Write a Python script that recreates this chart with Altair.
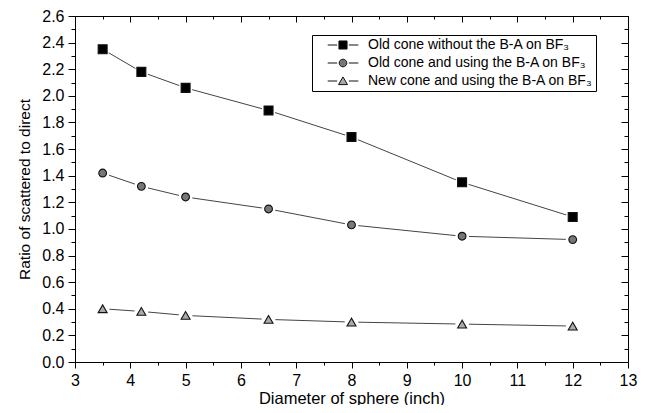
import altair as alt
import pandas as pd

# ---- data ----
diameters = [3.5, 4.2, 5, 6.5, 8, 10, 12]
old_without = [2.35, 2.18, 2.06, 1.89, 1.69, 1.35, 1.09]
old_with = [1.42, 1.32, 1.24, 1.15, 1.03, 0.945, 0.92]
new_with = [0.40, 0.38, 0.35, 0.32, 0.30, 0.285, 0.27]
series_names = [
    "Old cone without the B-A on BF₃",
    "Old cone and using the B-A on BF₃",
    "New cone and using the B-A on BF₃",
]
x_ticks = [3 + 0.5 * i for i in range(21)]
y_ticks = [round(0.1 * i, 1) for i in range(27)]

rows = []
for name, vals in zip(series_names, [old_without, old_with, new_with]):
    for d, v in zip(diameters, vals):
        rows.append({"series": name, "d": d, "r": v})
df = pd.DataFrame(rows)

FONT = "Liberation Sans"
W, H = 553, 346

fills = ["#000000", "#777777", "#aaaaaa"]
strokes = ["#111111", "#111111", "#111111"]
plot_shapes = ["square", "circle", "triangle-up"]
plot_sizes = [80, 60, 80]
legend_paths = [
    "M-3.4,0H-1.3M1.3,0H3.4M-0.9,-0.9H0.9V0.9H-0.9Z",
    "M-3.4,0H-1.3M1.3,0H3.4M-0.85,0A0.85,0.85,0,1,0,0.85,0A0.85,0.85,0,1,0,-0.85,0Z",
    "M-3.4,0H-1.3M1.3,0H3.4M0,-0.9L1.0,0.8H-1.0Z",
]

xscale = alt.Scale(domain=[3, 13], nice=False, zero=False)
yscale = alt.Scale(domain=[0, 2.6], nice=False, zero=False)

x_major = "datum.value % 1 === 0"
y_major = "round(datum.value * 10) % 2 === 0"

axis_common = dict(
    grid=False,
    domainColor="black",
    tickColor="black",
    domainWidth=1,
    tickWidth=1,
    labelFont=FONT,
    labelFontSize=16,
    labelColor="black",
    titleFont=FONT,
    titleFontWeight="normal",
    titleColor="black",
    labelOverlap=False,
    labelFlush=False,
)

x_main = alt.Axis(
    orient="bottom",
    values=x_ticks,
    labelExpr=f"{x_major} ? format(datum.value, 'd') : ''",
    tickSize={"condition": {"test": x_major, "value": 6}, "value": 3},
    title="Diameter of sphere (inch)",
    titleFontSize=16.5,
    labelPadding=4,
    titlePadding=2,
    **axis_common,
)
y_main = alt.Axis(
    orient="left",
    values=y_ticks,
    labelExpr=f"{y_major} ? format(datum.value, '.1f') : ''",
    tickSize={"condition": {"test": y_major, "value": 7}, "value": 4},
    title="Ratio of scattered to direct",
    titleFontSize=15.5,
    labelPadding=4,
    titlePadding=9,
    **axis_common,
)
x_mirror = alt.Axis(
    orient="bottom",
    offset=-H,
    values=x_ticks,
    labels=False,
    title=None,
    tickSize={"condition": {"test": x_major, "value": 6}, "value": 3},
    grid=False,
    domainColor="black",
    tickColor="black",
)
y_mirror = alt.Axis(
    orient="left",
    offset=-W,
    values=y_ticks,
    labels=False,
    title=None,
    tickSize={"condition": {"test": y_major, "value": 7}, "value": 4},
    grid=False,
    domainColor="black",
    tickColor="black",
)

base = alt.Chart(df)

lines = base.mark_line(color="#444444", strokeWidth=1).encode(
    x=alt.X("d:Q", scale=xscale, axis=x_main),
    y=alt.Y("r:Q", scale=yscale, axis=y_main),
    detail="series:N",
)

halo = base.mark_point(filled=True, color="white", opacity=1, size=190, shape="circle").encode(
    x=alt.X("d:Q", scale=xscale, axis=x_mirror),
    y=alt.Y("r:Q", scale=yscale, axis=y_mirror),
)

marker_layers = []
for name, shp, fc, sz in zip(series_names, plot_shapes, fills, plot_sizes):
    marker_layers.append(
        base.transform_filter(alt.datum.series == name)
        .mark_point(shape=shp, fill=fc, stroke="#111111", strokeWidth=1.1,
                    size=sz, opacity=1, filled=False)
        .encode(
            x=alt.X("d:Q", scale=xscale, axis=None),
            y=alt.Y("r:Q", scale=yscale, axis=None),
        )
    )

legend_spec = alt.Legend(
    title=None,
    orient="none",
    legendX=237,
    legendY=19,
    fillColor="white",
    strokeColor="black",
    padding=3,
    rowPadding=4,
    labelFont=FONT,
    labelFontSize=14,
    labelColor="black",
    labelOffset=18,
    labelLimit=400,
    symbolSize=81,
    symbolOffset=21,
    symbolStrokeWidth=1,
    symbolOpacity=1,
)

legend_layer = base.transform_filter("false").mark_point(
    filled=False, opacity=1, strokeWidth=1
).encode(
    shape=alt.Shape("series:N", scale=alt.Scale(domain=series_names, range=legend_paths), legend=legend_spec),
    fill=alt.Fill("series:N", scale=alt.Scale(domain=series_names, range=fills), legend=legend_spec),
    stroke=alt.Stroke("series:N", scale=alt.Scale(domain=series_names, range=strokes), legend=legend_spec),
)

chart = (
    alt.layer(lines, halo, *marker_layers, legend_layer)
    .resolve_axis(x="independent", y="independent")
    .properties(
        width=W,
        height=H,
        autosize=alt.AutoSizeParams(type="none"),
        padding={"left": 67, "top": 8, "right": 10, "bottom": 43},
        background="white",
    )
    .configure_view(stroke=None)
)

chart.save("out.html", embed_options={"renderer": "svg", "actions": False})
